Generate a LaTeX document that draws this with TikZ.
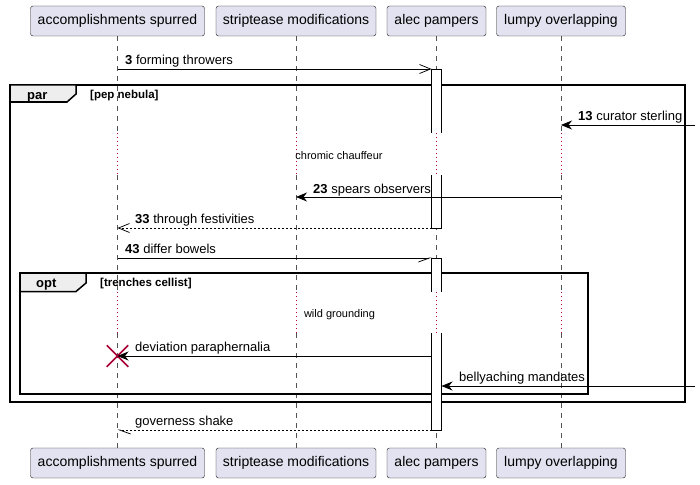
\documentclass[tikz,border=0pt]{standalone}
\usepackage{fontspec}
\setmainfont{Liberation Sans}
\usetikzlibrary{positioning,arrows.meta,shapes.misc}

\definecolor{partfill}{HTML}{E2E2F0}
\definecolor{partline}{HTML}{181818}
\definecolor{delayred}{HTML}{A80036}
\definecolor{tabfill}{HTML}{EEEEEE}

\tikzset{
  part/.style={draw=partline, fill=partfill, rounded corners=2.5pt, minimum height=30pt, inner sep=0pt, font=\fontsize{14}{16}\selectfont},
  life/.style={partline!75, line width=0.5pt, dash pattern=on 5pt off 5pt},
  delayed/.style={delayred, line width=0.6pt, dash pattern=on 1pt off 3pt},
  msg/.style={line width=0.75pt},
  ret/.style={msg, dash pattern=on 2pt off 2pt},
  openhead/.style={-{Straight Barb[length=11pt,width=9pt]}},
  fullhead/.style={-{Stealth[length=11pt,width=9pt,inset=3.5pt]}},
  halfhead/.style={-{Straight Barb[length=11pt,width=8pt,#1]}},
  lbl/.style={anchor=base west, inner sep=0pt, font=\fontsize{13}{15}\selectfont},
  note/.style={anchor=base, inner sep=0pt, font=\fontsize{11}{13}\selectfont},
  grp/.style={line width=1.5pt},
  grptab/.style={line width=1.5pt, fill=tabfill},
  grplbl/.style={anchor=base west, inner sep=0pt, font=\bfseries\fontsize{13}{15}\selectfont},
  grpcond/.style={anchor=base west, inner sep=0pt, font=\bfseries\fontsize{11.5}{13}\selectfont},
  bar/.style={fill=white, line width=0.75pt},
}

\begin{document}
\begin{tikzpicture}[x=1pt,y=-1pt]
\useasboundingbox (0,0) rectangle (700,484);

% participants and lifelines
\foreach \n/\x/\w/\t in {acc/117.5/174/accomplishments spurred,str/296/160/striptease modifications,alec/436.5/99/alec pampers,lumpy/561/129/lumpy overlapping}{
  \node[part, minimum width=\w pt] (\n top) at (\x,21) {\t};
  \node[part, minimum width=\w pt] (\n bot) at (\x,463) {\t};
  \draw[life] (\n top.south) -- (\x,133) (\x,175) -- (\x,292) (\x,333) -- (\n bot.north);
  \draw[delayed] (\x,133) -- (\x,175) (\x,292) -- (\x,333);
}

% groups
\draw[grp] (10,85) rectangle (685,402);
\draw[grptab] (10,85) -- (76,85) -- (76,94) -- (67,102) -- (10,102) -- cycle;
\node[grplbl] (parlbl) at (27,99.5) {par};
\node[grpcond] (parcond) at (90,98.5) {[pep nebula]};

\draw[grp] (20,273) rectangle (588,394);
\draw[grptab] (20,273) -- (86,273) -- (86,283) -- (76,291.5) -- (20,291.5) -- cycle;
\node[grplbl] (optlbl) at (36,287.5) {opt};
\node[grpcond] (optcond) at (100,286.5) {[trenches cellist]};

% activations of alec pampers
\draw[bar] (431.5,133) -- (431.5,69) -- (441.5,69) -- (441.5,133);
\draw[bar] (431.5,175) -- (431.5,228) -- (441.5,228) -- (441.5,175);
\draw[bar] (431.5,292) -- (431.5,258) -- (441.5,258) -- (441.5,292);
\draw[bar] (431.5,333) -- (431.5,430) -- (441.5,430) -- (441.5,333);

% delays
\node[note] (delay1) at (339,159) {chromic chauffeur};
\node[note] (delay2) at (339.5,317) {wild grounding};

% message ends
\coordinate (m3a) at (117.5,69);   \coordinate (m3b) at (431.5,69);
\coordinate (m13a) at (695,125);   \coordinate (m13b) at (561,125);
\coordinate (m23a) at (561,197);   \coordinate (m23b) at (296,197);
\coordinate (m33a) at (431.5,228); \coordinate (m33b) at (117.5,228);
\coordinate (m43a) at (117.5,258); \coordinate (m43b) at (431.5,258);
\coordinate (devA) at (431.5,356);
\coordinate (bellA) at (695,386);  \coordinate (bellB) at (441.5,386);
\coordinate (govA) at (431.5,430); \coordinate (govB) at (117.5,430);
\node[cross out, draw=delayred, line width=1.5pt, minimum size=20pt, inner sep=0pt] (kill) at (117.5,356) {};

% messages
\draw[msg, openhead] (m3a) -- (m3b);
\node[lbl] (l3) at (125,65) {\textbf{3} forming throwers};
\draw[msg, fullhead] (m13a) -- (m13b);
\node[lbl] (l13) at (578,121) {\textbf{13} curator sterling};
\draw[msg, fullhead] (m23a) -- (m23b);
\node[lbl] (l23) at (313,193) {\textbf{23} spears observers};
\draw[ret, openhead] (m33a) -- (m33b);
\node[lbl] (l33) at (135,223.5) {\textbf{33} through festivities};
\draw[msg, halfhead=right] (m43a) -- (m43b);
\node[lbl] (l43) at (125,253.5) {\textbf{43} differ bowels};
\draw[msg, fullhead] (devA) -- (kill.center);
\node[lbl] (ldev) at (135,351.5) {deviation paraphernalia};
\draw[msg, fullhead] (bellA) -- (bellB);
\node[lbl] (lbell) at (459,381.5) {bellyaching mandates};
\draw[ret, halfhead=left] (govA) -- (govB);
\node[lbl] (lgov) at (135,425.5) {governess shake};
\end{tikzpicture}
\end{document}
